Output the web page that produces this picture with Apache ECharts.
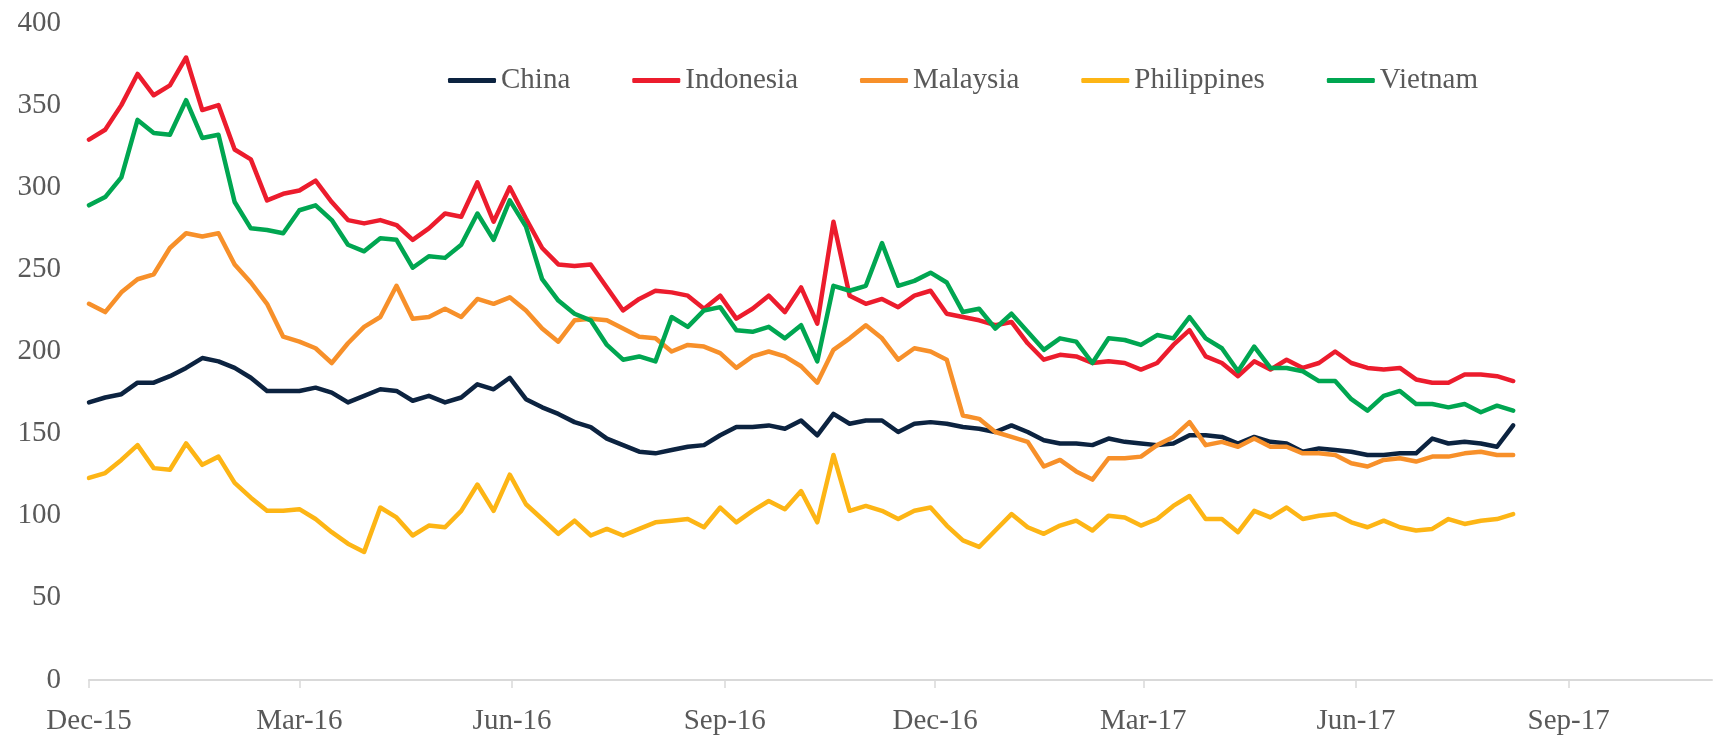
<!DOCTYPE html>
<html lang="en">
<head>
    <meta charset="UTF-8">
    <title>Bond yields</title>
    <script type="text/javascript" src="https://cdn.jsdelivr.net/npm/echarts@6.0.0/dist/echarts.min.js"></script>
    <style>
        html, body { margin: 0; padding: 0; background: #fff; }
    </style>
</head>
<body>
    <div id="main" style="width: 1715px; height: 736px"></div>
    <script>
        // weekly observations, x is days since 1 Dec 2015
        var weekStep = 7;

        var china = [
            169, 172, 174, 181, 181, 185, 190, 196, 194, 190, 184, 176, 176, 176, 178, 175, 169, 173, 177,
            176, 170, 173, 169, 172, 180, 177, 184, 171, 166, 162, 157, 154, 147, 143, 139, 138,
            140, 142, 143, 149, 154, 154, 155, 153, 158, 149, 162, 156, 158, 158, 151, 156, 157, 156,
            154, 153, 151, 155, 151, 146, 144, 144, 143, 147, 145, 144, 143, 144, 149, 149, 148, 144,
            148, 145, 144, 139, 141, 140, 139, 137, 137, 138, 138, 147, 144, 145, 144, 142, 155
        ];
        var indonesia = [
            329, 335, 350, 369, 356, 362, 379, 347, 350, 323, 317, 292, 296, 298, 304, 291, 280, 278, 280,
            277, 268, 275, 284, 282, 303, 279, 300, 281, 263, 253, 252, 253, 239, 225, 232, 237,
            236, 234, 226, 234, 220, 226, 234, 224, 239, 217, 279, 234, 229, 232, 227, 234, 237, 223,
            221, 219, 216, 218, 205, 195, 198, 197, 193, 194, 193, 189, 193, 204, 213, 197, 193, 185,
            194, 189, 195, 190, 193, 200, 193, 190, 189, 190, 183, 181, 181, 186, 186, 185, 182
        ];
        var malaysia = [
            229, 224, 236, 244, 247, 263, 272, 270, 272, 253, 242, 229, 209, 206, 202, 193, 205, 215, 221,
            240, 220, 221, 226, 221, 232, 229, 233, 225, 214, 206, 219, 220, 219, 214, 209, 208,
            200, 204, 203, 199, 190, 197, 200, 197, 191, 181, 201, 208, 216, 208, 195, 202, 200, 195,
            161, 159, 151, 148, 145, 130, 134, 127, 122, 135, 135, 136, 143, 148, 157, 143, 145, 142,
            147, 142, 142, 138, 138, 137, 132, 130, 134, 135, 133, 136, 136, 138, 139, 137, 137
        ];
        var philippines = [
            123, 126, 134, 143, 129, 128, 144, 131, 136, 120, 111, 103, 103, 104, 98, 90, 83, 78, 105,
            99, 88, 94, 93, 103, 119, 103, 125, 107, 98, 89, 97, 88, 92, 88, 92, 96,
            97, 98, 93, 105, 96, 103, 109, 104, 115, 96, 137, 103, 106, 103, 98, 103, 105, 94,
            85, 81, 91, 101, 93, 89, 94, 97, 91, 100, 99, 94, 98, 106, 112, 98, 98, 90,
            103, 99, 105, 98, 100, 101, 96, 93, 97, 93, 91, 92, 98, 95, 97, 98, 101
        ];
        var vietnam = [
            289, 294, 306, 341, 333, 332, 353, 330, 332, 291, 275, 274, 272, 286, 289, 280, 265, 261, 269,
            268, 251, 258, 257, 265, 284, 268, 292, 276, 244, 231, 223, 219, 204, 195, 197, 194,
            221, 215, 225, 227, 213, 212, 215, 208, 216, 194, 240, 237, 240, 266, 240, 243, 248, 242,
            224, 226, 214, 223, 212, 201, 208, 206, 193, 208, 207, 204, 210, 208, 221, 208, 202, 188,
            203, 190, 190, 188, 182, 182, 171, 164, 173, 176, 168, 168, 166, 168, 163, 167, 164
        ];

        var seriesNames = ['China', 'Indonesia', 'Malaysia', 'Philippines', 'Vietnam'];
        var seriesColors = ['#0c2340', '#ec1c2d', '#f7902a', '#fdb515', '#00a651'];
        var seriesValues = [china, indonesia, malaysia, philippines, vietnam];

        // quarter starts, in days since 1 Dec 2015
        var tickDays = [0, 91, 183, 275, 366, 456, 548, 640];
        var tickLabels = ['Dec-15', 'Mar-16', 'Jun-16', 'Sep-16', 'Dec-16', 'Mar-17', 'Jun-17', 'Sep-17'];
        var lastDay = 702;

        var font = '"Liberation Serif", "Times New Roman", serif';
        var textColor = '#595959';

        var myChart = echarts.init(document.getElementById('main'));

        var series = seriesNames.map(function (name, i) {
            return {
                name: name,
                type: 'line',
                showSymbol: false,
                symbol: 'none',
                data: seriesValues[i].map(function (v, k) {
                    return [k * weekStep, v];
                }),
                lineStyle: { width: 4.5, color: seriesColors[i], cap: 'round', join: 'round' },
                itemStyle: { color: seriesColors[i] },
                animation: false
            };
        });

        myChart.setOption({
            backgroundColor: '#fff',
            legend: {
                top: 61,
                left: 443,
                icon: 'roundRect',
                itemWidth: 48,
                itemHeight: 5,
                itemGap: 62,
                textStyle: {
                    fontFamily: font,
                    fontSize: 29,
                    color: textColor
                },
                data: seriesNames
            },
            grid: {
                left: 89,
                right: 3,
                top: 23,
                bottom: 56
            },
            xAxis: {
                type: 'value',
                min: 0,
                max: lastDay,
                axisLine: {
                    lineStyle: {
                        color: '#d9d9d9',
                        width: 2
                    }
                },
                axisTick: {
                    show: true,
                    length: 8,
                    customValues: tickDays,
                    lineStyle: { color: '#d9d9d9', width: 1.5 }
                },
                axisLabel: {
                    customValues: tickDays,
                    margin: 27,
                    fontFamily: font,
                    fontSize: 29,
                    color: textColor,
                    formatter: function (v) {
                        var idx = tickDays.indexOf(v);
                        return idx >= 0 ? tickLabels[idx] : '';
                    }
                },
                splitLine: {
                    show: false
                }
            },
            yAxis: {
                type: 'value',
                min: 0,
                max: 400,
                interval: 50,
                axisLine: { show: false },
                axisTick: { show: false },
                axisLabel: {
                    margin: 28,
                    fontFamily: font,
                    fontSize: 29,
                    color: textColor
                },
                splitLine: {
                    show: false
                }
            },
            series: series
        });
    </script>
</body>
</html>
